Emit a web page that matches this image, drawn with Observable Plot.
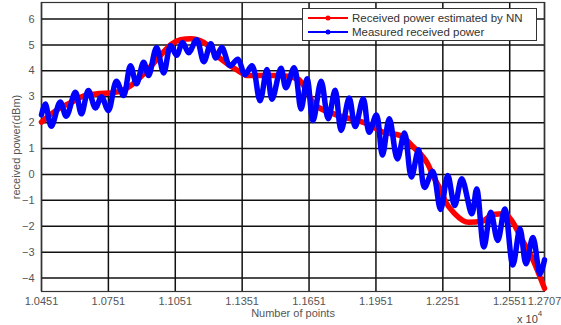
<!DOCTYPE html>
<html><head><meta charset="utf-8">
<script src="https://cdn.jsdelivr.net/npm/d3@7"></script>
<script src="https://cdn.jsdelivr.net/npm/@observablehq/plot@0.6"></script>
<style>
body{margin:0;background:#fff;font-family:"Liberation Sans",Arial,sans-serif}
#wrap{position:relative;width:561px;height:325px;overflow:hidden}
#legend{position:absolute;left:302px;top:8px;width:235px;height:33px;border:1px solid #333;background:#fff;font-size:11.5px;color:#333;box-sizing:border-box;padding-top:2px}
#legend .row{display:flex;align-items:center;height:14px}
#legend svg{margin-left:5px;margin-right:4px}
#exp{position:absolute;left:517px;top:311px;font-size:11px;color:#444}
#exp sup{font-size:8px;position:relative;top:-2px}
</style></head>
<body>
<div id="wrap"></div>
<script>
// Measured received power (blue) – extrema
const measuredX = [10451,10468,10495,10535,10562,10603,10630,10661,10693,10720,10751,10787,10819,10850,10877,10909,10931,10967,10999,11030,11057,11084,11111,11147,11179,11210,11233,11260,11296,11332,11363,11395,11431,11462,11485,11525,11547,11584,11615,11642,11669,11705,11737,11768,11795,11831,11858,11894,11921,11953,11980,12011,12047,12079,12110,12142,12169,12205,12241,12273,12304,12336,12381,12403,12435,12466,12497,12529,12565,12597,12624,12655,12687,12707];
const measuredY = [2.3,2.72,1.86,2.8,2.25,3.17,2.34,3.24,2.57,3.0,2.47,3.6,3.05,4.2,3.5,4.33,3.82,4.9,3.92,4.97,4.6,5.1,4.7,5.2,4.35,5.05,4.5,4.9,4.2,4.45,3.85,4.2,2.85,4.05,2.9,4.1,3.35,4.12,2.53,3.7,2.08,3.6,2.15,3.25,1.7,2.95,1.85,2.92,1.63,2.3,0.75,2.15,0.6,1.6,-0.1,0.95,-0.5,0.12,-1.35,-0.04,-1.2,-0.17,-1.52,-0.56,-2.8,-1.46,-2.55,-1.33,-3.5,-2.1,-3.45,-2.43,-3.85,-3.3];
// Received power estimated by NN (red)
const nnX = [10451,10513,10585,10648,10693,10783,10841,10931,10985,11035,11075,11120,11179,11255,11332,11377,11435,11525,11600,11645,11672,11762,11913,11985,12061,12120,12183,12210,12241,12263,12304,12367,12430,12475,12529,12560,12605,12650,12707];
const nnY = [2.02,2.45,2.79,3.05,3.11,3.17,3.37,4.08,4.6,5.04,5.2,5.24,5.1,4.46,4.01,3.82,3.82,3.82,3.69,3.17,2.73,2.34,1.95,1.63,1.5,1.05,0.41,-0.1,-0.6,-1.05,-1.51,-1.85,-1.8,-1.55,-1.52,-1.78,-2.5,-3.2,-4.4];
const xTicks = [10451,10751,11051,11351,11651,11951,12251,12551,12707];
const yTicks = [-4,-3,-2,-1,0,1,2,3,4,5,6];
const legendLabels = ["Received power estimated by NN","Measured received power"];
const legendColors = ["#ff0000","#0000ff"];

const measured = measuredX.map((x,i)=>({x, y: measuredY[i]}));
const nn = nnX.map((x,i)=>({x, y: nnY[i]}));

const chart = Plot.plot({
  width: 561, height: 325,
  marginLeft: 41, marginRight: 17, marginTop: 2, marginBottom: 34,
  style: {fontFamily: "Liberation Sans, Arial, sans-serif", fontSize: "11px", color: "#555", background: "#fff"},
  x: {domain: [10451, 12707], ticks: xTicks, tickFormat: d => (d/1e4).toFixed(4), tickSize: 0, tickPadding: 6,
      label: "Number of points", labelAnchor: "center", labelOffset: 25, labelArrow: "none"},
  y: {domain: [-4.52, 6.64], ticks: yTicks, tickSize: 0, tickPadding: 7,
      label: "received power(dBm)", labelAnchor: "center", labelOffset: 29, labelArrow: "none"},
  marks: [
    Plot.gridX(xTicks, {stroke: "#111", strokeOpacity: 1, strokeWidth: 1.5}),
    Plot.gridY(yTicks, {stroke: "#111", strokeOpacity: 1, strokeWidth: 1.5}),
    Plot.frame({stroke: "#333", strokeWidth: 1.2}),
    Plot.line(nn, {x: "x", y: "y", stroke: legendColors[0], strokeWidth: 5.5, curve: "monotone-x"}),
    Plot.line(measured, {x: "x", y: "y", stroke: legendColors[1], strokeWidth: 5.5, curve: "catmull-rom"})
  ]
});
const wrap = document.getElementById("wrap");
wrap.appendChild(chart);

const leg = document.createElement("div");
leg.id = "legend";
legendLabels.forEach((lab,i)=>{
  const row = document.createElement("div");
  row.className = "row";
  row.innerHTML = `<svg width="40" height="8"><line x1="0" y1="4" x2="40" y2="4" stroke="${legendColors[i]}" stroke-width="2"/><circle cx="20" cy="4" r="2.5" fill="${legendColors[i]}"/></svg><span>${lab}</span>`;
  leg.appendChild(row);
});
wrap.appendChild(leg);
const exp = document.createElement("div");
exp.id = "exp";
exp.innerHTML = "x 10<sup>4</sup>";
wrap.appendChild(exp);
</script>
</body></html>
